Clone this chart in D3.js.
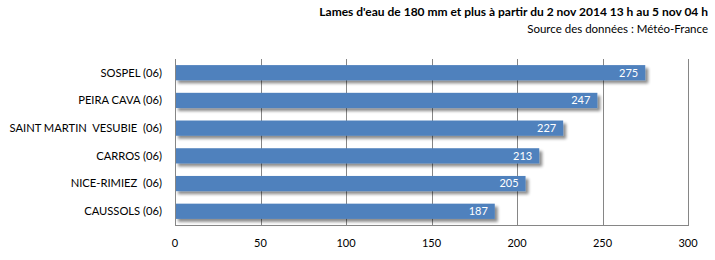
<!DOCTYPE html>
<html>
<head>
<meta charset="utf-8">
<script src="https://cdn.jsdelivr.net/npm/d3@7"></script>
<style>
body { margin: 0; background: #fff; }
svg text { font-family: Lato, "Open Sans", sans-serif; fill: #000; }
</style>
</head>
<body>
<svg id="chart" width="715" height="260"></svg>
<script>
// data
var stations = ["SOSPEL (06)", "PEIRA CAVA (06)", "SAINT MARTIN  VESUBIE  (06)", "CARROS (06)", "NICE-RIMIEZ  (06)", "CAUSSOLS (06)"];
var values = [275, 247, 227, 213, 205, 187];
var xTicks = [0, 50, 100, 150, 200, 250, 300];
var title = "Lames d'eau de 180 mm et plus à partir du 2 nov 2014 13 h au 5 nov 04 h";
var subtitle = "Source des données : Météo-France";

var svg = d3.select("#chart");
var plotLeft = 175, plotRight = 688, plotTop = 59, plotBottom = 225;

var x = d3.scaleLinear().domain([0, 300]).range([plotLeft, plotRight]);
var y = d3.scaleBand().domain(stations).range([plotTop, plotBottom]).paddingInner(0.45).paddingOuter(0.22);

// shadow filter
var defs = svg.append("defs");
var f = defs.append("filter").attr("id", "shadow").attr("x", "-5%").attr("y", "-30%").attr("width", "115%").attr("height", "190%");
f.append("feGaussianBlur").attr("in", "SourceAlpha").attr("stdDeviation", 1.5).attr("result", "blur");
f.append("feOffset").attr("in", "blur").attr("dx", 3).attr("dy", 3).attr("result", "off");
f.append("feComponentTransfer").attr("in", "off").attr("result", "soft")
  .append("feFuncA").attr("type", "linear").attr("slope", 0.45);
var merge = f.append("feMerge");
merge.append("feMergeNode").attr("in", "soft");
merge.append("feMergeNode").attr("in", "SourceGraphic");

// gridlines
svg.append("g").selectAll("line").data(xTicks.slice(1)).join("line")
  .attr("x1", d => Math.round(x(d)) + 0.5).attr("x2", d => Math.round(x(d)) + 0.5)
  .attr("y1", plotTop).attr("y2", plotBottom)
  .attr("stroke", "#868686").attr("stroke-width", 1);

// bars
svg.append("g").selectAll("rect").data(values).join("rect")
  .attr("x", x(0))
  .attr("y", (d, i) => y(stations[i]))
  .attr("width", d => x(d) - x(0))
  .attr("height", y.bandwidth())
  .attr("fill", "#4f81bd")
  .attr("filter", "url(#shadow)");

// value labels
svg.append("g").selectAll("text").data(values).join("text")
  .attr("x", d => x(d) - 7)
  .attr("y", (d, i) => y(stations[i]) + y.bandwidth() / 2)
  .attr("dy", "0.35em")
  .attr("text-anchor", "end")
  .style("fill", "#fff")
  .style("font-size", "11px")
  .text(d => d);

// axes lines
svg.append("line").attr("x1", plotLeft + 0.5).attr("x2", plotLeft + 0.5).attr("y1", plotTop).attr("y2", plotBottom)
  .attr("stroke", "#868686");
svg.append("line").attr("x1", plotLeft).attr("x2", plotRight + 1).attr("y1", plotBottom + 0.5).attr("y2", plotBottom + 0.5)
  .attr("stroke", "#868686");

// category labels
svg.append("g").selectAll("text").data(stations).join("text")
  .attr("x", 162)
  .attr("y", d => y(d) + y.bandwidth() / 2)
  .attr("dy", "0.35em")
  .attr("text-anchor", "end")
  .style("font-size", "11.2px")
  .style("white-space", "pre")
  .text(d => d);

// x tick labels
svg.append("g").selectAll("text").data(xTicks).join("text")
  .attr("x", d => x(d))
  .attr("y", 247)
  .attr("text-anchor", "middle")
  .style("font-size", "11px")
  .text(d => d);

// titles
svg.append("text").attr("x", 708).attr("y", 16).attr("text-anchor", "end")
  .style("font-size", "12px").style("font-weight", "bold").text(title);
svg.append("text").attr("x", 708).attr("y", 33).attr("text-anchor", "end")
  .style("font-size", "11.5px").text(subtitle);
</script>
</body>
</html>
